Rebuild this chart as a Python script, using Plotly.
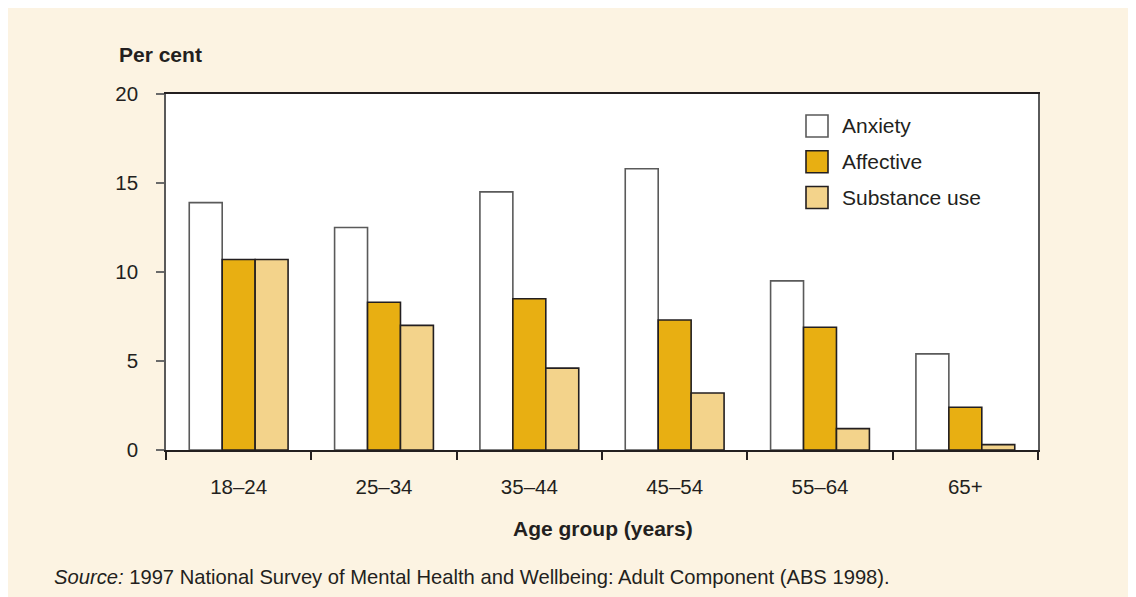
import plotly.graph_objects as go

categories = ["18–24", "25–34", "35–44", "45–54", "55–64", "65+"]
anxiety = [13.9, 12.5, 14.5, 15.8, 9.5, 5.4]
affective = [10.7, 8.3, 8.5, 7.3, 6.9, 2.4]
substance = [10.7, 7.0, 4.6, 3.2, 1.2, 0.3]
series_names = ["Anxiety", "Affective", "Substance use"]
series_colors = ["#FFFFFF", "#E8AF12", "#F3D38B"]
series_lines = ["#5A5A5A", "#231F20", "#231F20"]
y_ticks = [0, 5, 10, 15, 20]

OFF = 8  # browser body margin
W, H = 1136, 597
L, R, T, B = 166 - OFF, 1038 - OFF, 93.5 - OFF, 450 - OFF
pw, ph = R - L, B - T

def px(x):
    return (x - OFF - L) / pw

def py(y):
    return (B - (y - OFF)) / ph

TXT = "#231F20"
FONT = "Liberation Sans, Arial, sans-serif"
FS = 21

fig = go.Figure()
for name, vals, col, lc in zip(series_names, [anxiety, affective, substance], series_colors, series_lines):
    fig.add_trace(go.Bar(x=categories, y=vals, name=name, marker=dict(color=col, line=dict(color=lc, width=1.6)),
                         showlegend=False))

shapes = []
annotations = []
for i, (name, col, lc) in enumerate(zip(series_names, series_colors, series_lines)):
    top = 114.5 + i * 35.8
    shapes.append(dict(type="rect", xref="paper", yref="paper", x0=px(806), x1=px(828), y0=py(top + 22), y1=py(top),
                       fillcolor=col, line=dict(color=lc, width=1.6)))
    annotations.append(dict(xref="paper", yref="paper", x=px(840), y=py(top + 11), text=name, showarrow=False,
                            xanchor="left", yanchor="middle", font=dict(size=FS, color=TXT, family=FONT)))

annotations.append(dict(xref="paper", yref="paper", x=px(117), y=py(54), text="<b>Per cent</b>", showarrow=False,
                        xanchor="left", yanchor="middle", font=dict(size=FS, color=TXT, family=FONT)))
annotations.append(dict(xref="paper", yref="paper", x=px(603), y=py(529), text="<b>Age group (years)</b>", showarrow=False,
                        xanchor="center", yanchor="middle", font=dict(size=FS, color=TXT, family=FONT)))
annotations.append(dict(xref="paper", yref="paper", x=px(52), y=py(577),
                        text="<i>Source:</i> 1997 National Survey of Mental Health and Wellbeing: Adult Component (ABS 1998).",
                        showarrow=False, xanchor="left", yanchor="middle", font=dict(size=20.2, color=TXT, family=FONT)))

fig.update_layout(
    width=W, height=H, autosize=False,
    margin=dict(l=L, r=W - R, t=T, b=H - B, pad=0),
    paper_bgcolor="#FCF3E2", plot_bgcolor="#FFFFFF",
    barmode="group", bargap=0.32, bargroupgap=0,
    font=dict(family=FONT, size=FS, color=TXT),
    shapes=shapes, annotations=annotations,
    xaxis=dict(type="category", tickson="boundaries", ticks="outside", ticklen=8, tickcolor=TXT, tickwidth=1.5,
               showline=True, linecolor=TXT, linewidth=1.5, mirror=True, showgrid=False,
               ticklabelstandoff=18, tickfont=dict(size=20.5, color=TXT, family=FONT)),
    yaxis=dict(range=[0, 20], tickvals=y_ticks, ticks="outside", ticklen=8, tickcolor="#6A6A6A", tickwidth=1.5,
               showline=True, linecolor="#5A5A5A", linewidth=1.5, mirror=True, showgrid=False, zeroline=False,
               ticklabelstandoff=14, tickfont=dict(size=20.5, color=TXT, family=FONT)),
)

fig.write_html("out.html")
